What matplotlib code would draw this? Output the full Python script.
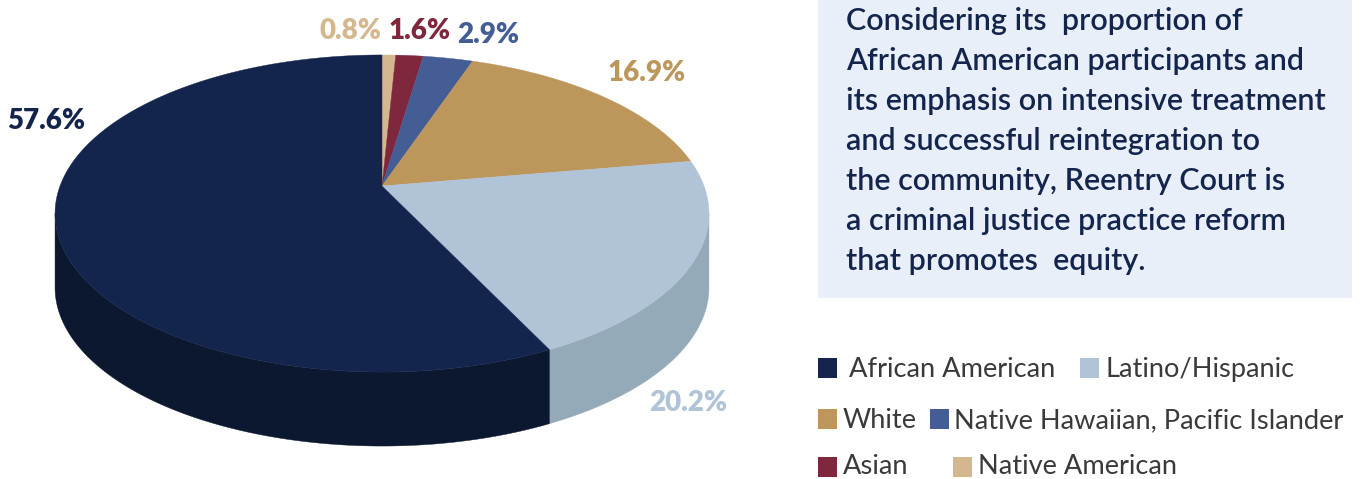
import numpy as np
import matplotlib
matplotlib.use('Agg')
import matplotlib.pyplot as plt

# clockwise from 12 o'clock
groups = ['Native American', 'Asian', 'Native Hawaiian, Pacific Islander', 'White', 'Latino/Hispanic', 'African American']
shares = [0.8, 1.6, 2.9, 16.9, 20.2, 57.6]
top_colors = ['#D5B78F', '#7E273D', '#445E95', '#BD965C', '#B1C3D7', '#14254D']
side_colors = ['#B79B76', '#651F31', '#364B77', '#977849', '#95AAB9', '#0C1830']
label_pos = [(351, 38.5), (420, 38.5), (488, 42.5), (646.5, 81), (688, 411), (46.5, 129)]

paragraph = ['Considering its  proportion of',
             'African American participants and',
             'its emphasis on intensive treatment',
             'and successful reintegration to',
             'the community, Reentry Court is',
             'a criminal justice practice reform',
             'that promotes  equity.']

# swatch x, swatch y, text x, text baseline per legend entry
legend_rows = [('African American', 818, 358, 849, 377),
               ('Latino/Hispanic', 1080, 358, 1105, 377),
               ('White', 818, 409, 843, 428),
               ('Native Hawaiian, Pacific Islander', 930, 409, 954, 428),
               ('Asian', 818, 457, 843, 474),
               ('Native American', 953, 457, 978, 474)]

# perspective projection of the disc onto the page
CX, CY = 382, 186
A, B, T = 322, 121.5, 0.1735
DEPTH = 74
SKEW = np.radians(1.4)
FRONT_R = np.arccos(-T)  # right silhouette point of the rim
FRONT_L = 2 * np.pi - FRONT_R


def project(theta):
    u, v = np.sin(theta), np.cos(theta)
    w = 1 + T * v
    return CX + A * u / w, (CY - B * v) / w


def warp(angle):
    return angle + SKEW * (1 - np.cos(angle)) / 2


fig = plt.figure(figsize=(13.62, 4.79), dpi=100)
ax = fig.add_axes([0, 0, 1, 1])
ax.set_xlim(0, 1362)
ax.set_ylim(479, 0)
ax.axis('off')

edges = warp(np.radians(np.cumsum([0] + shares) / sum(shares) * 360))

# only the front part of the rim gets a wall
for i in range(len(shares)):
    lo, hi = max(edges[i], FRONT_R), min(edges[i + 1], FRONT_L)
    if hi <= lo:
        continue
    x, y = project(np.linspace(lo, hi, 200))
    ax.fill(np.r_[x, x[::-1]], np.r_[y, y[::-1] + DEPTH], color=side_colors[i], lw=0.3, zorder=1)

for i in range(len(shares)):
    x, y = project(np.linspace(edges[i], edges[i + 1], 200))
    ax.fill(np.r_[CX, x], np.r_[CY, y], color=top_colors[i], lw=0.3, zorder=2)

for val, pos, col in zip(shares, label_pos, top_colors):
    ax.text(pos[0], pos[1], f'{val}%', color=col, family='Lato', weight='heavy',
            fontsize=20, ha='center', va='baseline', zorder=3)

ax.add_patch(plt.Rectangle((818, 0), 534, 298, color='#E8EFF8', lw=0))
for i, line in enumerate(paragraph):
    ax.text(846, 30 + 40 * i, line, color='#14254D', family='Lato', weight='semibold',
            fontsize=22, ha='left', va='baseline')

for name, sx, sy, tx, ty in legend_rows:
    col = top_colors[groups.index(name)]
    ax.add_patch(plt.Rectangle((sx, sy), 19, 20, color=col, lw=0))
    ax.text(tx, ty, name, color='#3A3A3A', family='Lato', fontsize=19.6, ha='left', va='baseline')

fig.savefig('out.png', dpi=100)
plt.close(fig)
